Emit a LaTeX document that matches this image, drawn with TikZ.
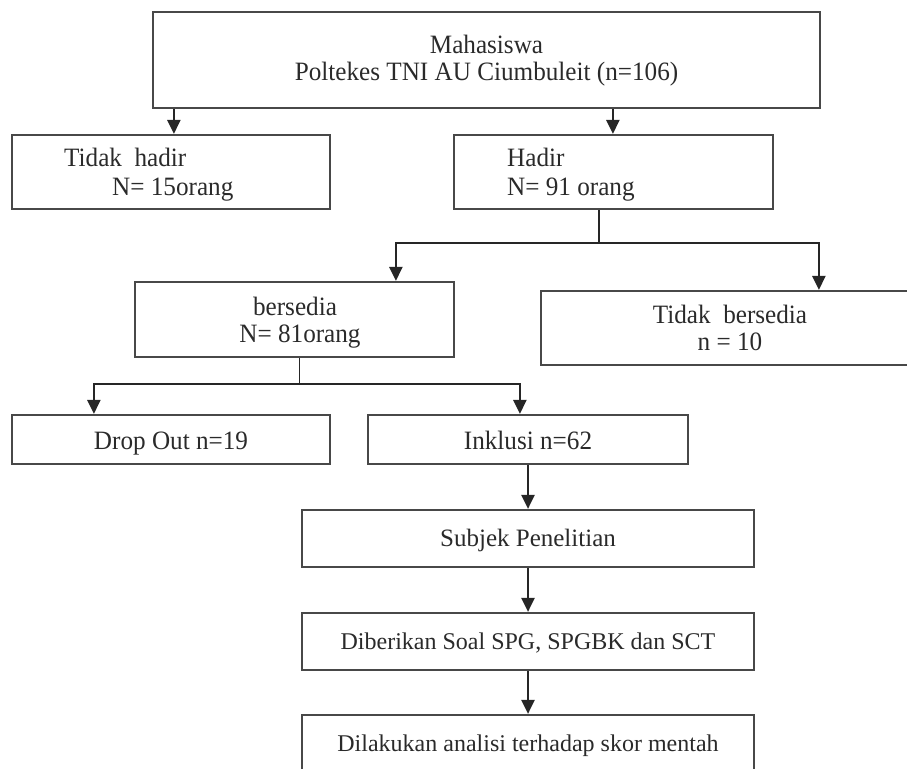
\documentclass[tikz,border=0pt]{standalone}
\usepackage{fontspec}
\usepackage{graphicx}
\setmainfont{Liberation Serif}
\usetikzlibrary{arrows.meta}
\definecolor{boxline}{HTML}{484848}
\definecolor{arrline}{HTML}{262626}
\definecolor{txt}{HTML}{2A2A2A}
\newcommand{\upt}[1]{\scalebox{0.95}[1]{#1}}
\tikzset{
  box/.style={draw=boxline, line width=2.2pt, inner sep=0pt, rectangle},
  arr/.style={draw=arrline, line width=2.4pt, -{Triangle[length=14pt,width=13pt]}},
  link/.style={draw=arrline, line width=1.6pt},
  uptext/.style={font=\fontsize{26.5}{31}\selectfont, text=txt, inner sep=0pt, anchor=base},
  lowtext/.style={font=\fontsize{24}{29}\selectfont, text=txt, inner sep=0pt, anchor=base},
}
\begin{document}
\begin{tikzpicture}[x=1pt, y=-1pt]
\useasboundingbox (0,0) rectangle (907,768);
\clip (0,0) rectangle (907,768);
% boxes
\node[box, minimum width=667, minimum height=96] (top) at (486.5,60) {};
\node[box, minimum width=318, minimum height=74] (th) at (171,172) {};
\node[box, minimum width=319, minimum height=74] (hd) at (613.5,172) {};
\node[box, minimum width=319, minimum height=75] (bs) at (294.5,319.5) {};
\node[box, minimum width=400, minimum height=74] (tb) at (741,328) {};
\node[box, minimum width=318, minimum height=49] (do) at (171,439.5) {};
\node[box, minimum width=320, minimum height=49] (ink) at (528,439.5) {};
\node[box, minimum width=452, minimum height=57] (sp) at (528,538.5) {};
\node[box, minimum width=452, minimum height=57] (dsoal) at (528,641.5) {};
\node[box, minimum width=452, minimum height=57] (dan) at (528,743.5) {};
% texts
\node[uptext] (t1) at (486.5,53) {\upt{Mahasiswa}};
\node[uptext] (t2) at (486.5,81) {\upt{Poltekes TNI AU Ciumbuleit (n=106)}};
\node[uptext, anchor=base west] (t3) at (64,166) {\upt{Tidak\ \ hadir}};
\node[uptext, anchor=base west] (t4) at (112,195) {\upt{N= 15orang}};
\node[uptext, anchor=base west] (t5) at (507,166) {\upt{Hadir}};
\node[uptext, anchor=base west] (t6) at (507,195) {\upt{N= 91 orang}};
\node[uptext] (t7) at (295,315) {\upt{bersedia}};
\node[uptext] (t8) at (300,342) {\upt{N= 81orang}};
\node[uptext] (t9) at (730,323) {\upt{Tidak\ \ bersedia}};
\node[uptext] (t10) at (730,350) {\upt{n = 10}};
\node[uptext] (t11) at (171,449) {\upt{Drop Out n=19}};
\node[uptext] (t12) at (528,449) {\upt{Inklusi n=62}};
\node[lowtext, font=\fontsize{25}{30}\selectfont] (t13) at (528,546) {Subjek Penelitian};
\node[lowtext] (t14) at (528,649) {Diberikan Soal SPG, SPGBK dan SCT};
\node[lowtext] (t15) at (528,751) {Dilakukan analisi terhadap skor mentah};
% connectors
\draw[arr] ([xshift=22pt]top.south west) -- ([xshift=163pt]th.north west);
\draw[arr] ([xshift=461pt]top.south west) -- ([xshift=160pt]hd.north west);
\coordinate (j1) at ([xshift=146pt, yshift=-33pt]hd.south west);
\draw[link] ([xshift=146pt]hd.south west) -- (j1);
\draw[arr] (j1) -| ([xshift=262pt]bs.north west);
\draw[arr] (j1) -| ([xshift=279pt]tb.north west);
\coordinate (j2) at ([yshift=-26pt]bs.south);
\draw[link] ([xshift=5pt]bs.south) -- ([xshift=5pt]j2);
\draw[arr] ([xshift=5pt]j2) -| ([xshift=83pt]do.north west);
\draw[arr] ([xshift=5pt]j2) -| ([xshift=153pt]ink.north west);
\draw[arr] (ink.south) -- (sp.north);
\draw[arr] (sp.south) -- (dsoal.north);
\draw[arr] (dsoal.south) -- (dan.north);
\end{tikzpicture}
\end{document}
